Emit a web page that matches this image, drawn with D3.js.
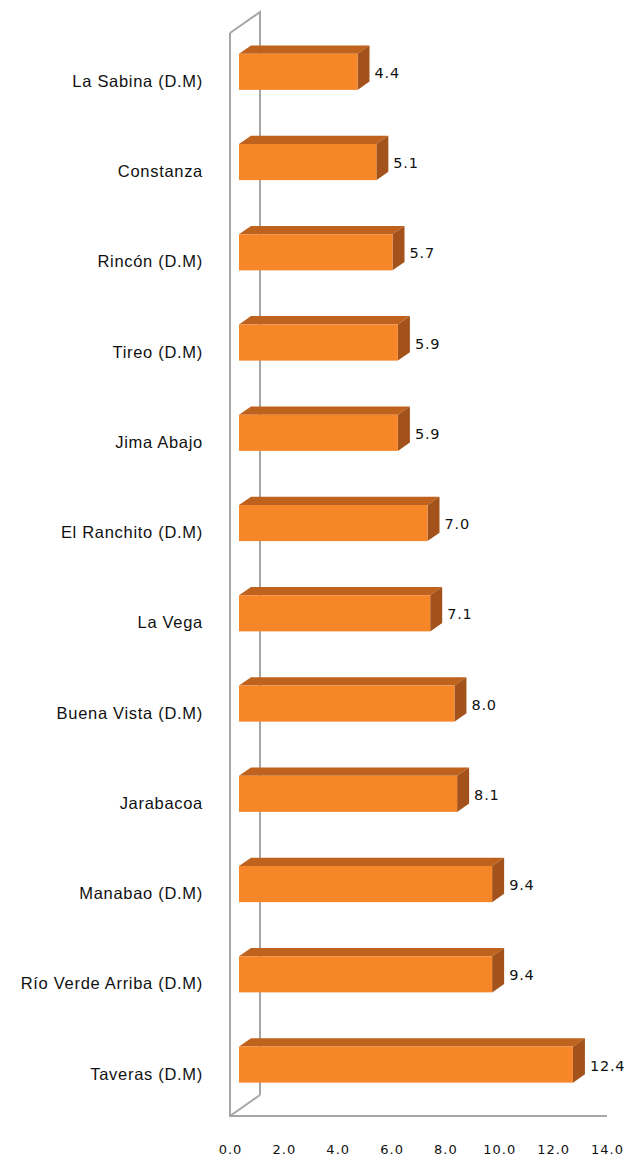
<!DOCTYPE html>
<meta charset="utf-8">
<style>
  body { margin: 0; background: #fff; }
  svg { display: block; }
</style>
<svg width="628" height="1161"></svg>
<script src="https://d3js.org/d3.v7.min.js"></script>
<script>

var categories = ["La Sabina (D.M)", "Constanza", "Rincón (D.M)", "Tireo (D.M)", "Jima Abajo",
  "El Ranchito (D.M)", "La Vega", "Buena Vista (D.M)", "Jarabacoa", "Manabao (D.M)",
  "Río Verde Arriba (D.M)", "Taveras (D.M)"];
var values = [4.4, 5.1, 5.7, 5.9, 5.9, 7.0, 7.1, 8.0, 8.1, 9.4, 9.4, 12.4];
var ticks = [0, 2, 4, 6, 8, 10, 12, 14];

var svg = d3.select("svg");

// front plane of the 3d box, depth goes up/right
var boxLeft = 230, boxRight = 607, boxTop = 33, boxBottom = 1116;
var depthX = 30, depthY = -21;
var barStart = 0.3, barDepth = 0.4; // fraction of box depth

var x = d3.scaleLinear().domain([0, 14]).range([boxLeft, boxRight]);
var y = d3.scaleBand().domain(categories).range([boxTop, boxBottom])
    .paddingInner(0.6).paddingOuter(0.3);

var grey = "#a6a6a6";

// walls
var wall = svg.append("g").attr("fill", "none").attr("stroke", grey).attr("stroke-width", 2);
wall.append("path").attr("d",
  "M" + boxLeft + "," + boxTop + "L" + (boxLeft + depthX) + "," + (boxTop + depthY) +
  "L" + (boxLeft + depthX) + "," + (boxBottom + depthY));
wall.append("path").attr("d",
  "M" + boxLeft + "," + boxTop + "L" + boxLeft + "," + boxBottom + "L" + boxRight + "," + boxBottom);
wall.append("path").attr("d",
  "M" + boxLeft + "," + boxBottom + "L" + (boxLeft + depthX) + "," + (boxBottom + depthY));

var ox = depthX * barStart, oy = depthY * barStart;
var dx = depthX * barDepth, dy = depthY * barDepth;
var h = y.bandwidth();

var bars = svg.append("g").selectAll("g")
  .data(values)
  .join("g")
    .attr("transform", function(d, i) { return "translate(" + ox + "," + (y(categories[i]) + oy) + ")"; });

// top face
bars.append("path")
    .attr("fill", "#bf621d")
    .attr("d", function(d) {
      var x0 = x(0), x1 = x(d);
      return "M" + x0 + ",0L" + (x0 + dx) + "," + dy + "L" + (x1 + dx) + "," + dy + "L" + x1 + ",0Z";
    });
// side face
bars.append("path")
    .attr("fill", "#a2521a")
    .attr("d", function(d) {
      var x1 = x(d);
      return "M" + x1 + ",0L" + (x1 + dx) + "," + dy + "L" + (x1 + dx) + "," + (h + dy) + "L" + x1 + "," + h + "Z";
    });
// front face
bars.append("rect")
    .attr("x", x(0))
    .attr("y", 0)
    .attr("width", function(d) { return x(d) - x(0); })
    .attr("height", h)
    .attr("fill", "#f68628");

bars.append("text")
    .attr("x", function(d) { return x(d) + dx + 5; })
    .attr("y", h / 2 + 1)
    .attr("dy", "0.35em")
    .attr("font-family", "DejaVu Sans")
    .attr("font-size", "14.5px")
    .attr("letter-spacing", "0.8px")
    .attr("fill", "#111")
    .text(function(d) { return d.toFixed(1); });

// category labels
svg.append("g").selectAll("text")
  .data(categories)
  .join("text")
    .attr("x", 203)
    .attr("y", function(d) { return y(d) + h / 2 + 3; })
    .attr("dy", "0.35em")
    .attr("text-anchor", "end")
    .attr("font-family", "Liberation Sans")
    .attr("font-size", "16.5px")
    .attr("letter-spacing", "0.7px")
    .attr("fill", "#111")
    .text(function(d) { return d; });

// value axis
var axis = svg.append("g")
    .attr("transform", "translate(0," + (boxBottom + 29) + ")")
    .call(d3.axisBottom(x).tickValues(ticks).tickSize(0).tickPadding(0).tickFormat(d3.format(".1f")));
axis.select(".domain").remove();
axis.selectAll("text")
    .attr("font-family", "DejaVu Sans")
    .attr("font-size", "13px")
    .attr("letter-spacing", "1px")
    .attr("fill", "#111");

</script>
